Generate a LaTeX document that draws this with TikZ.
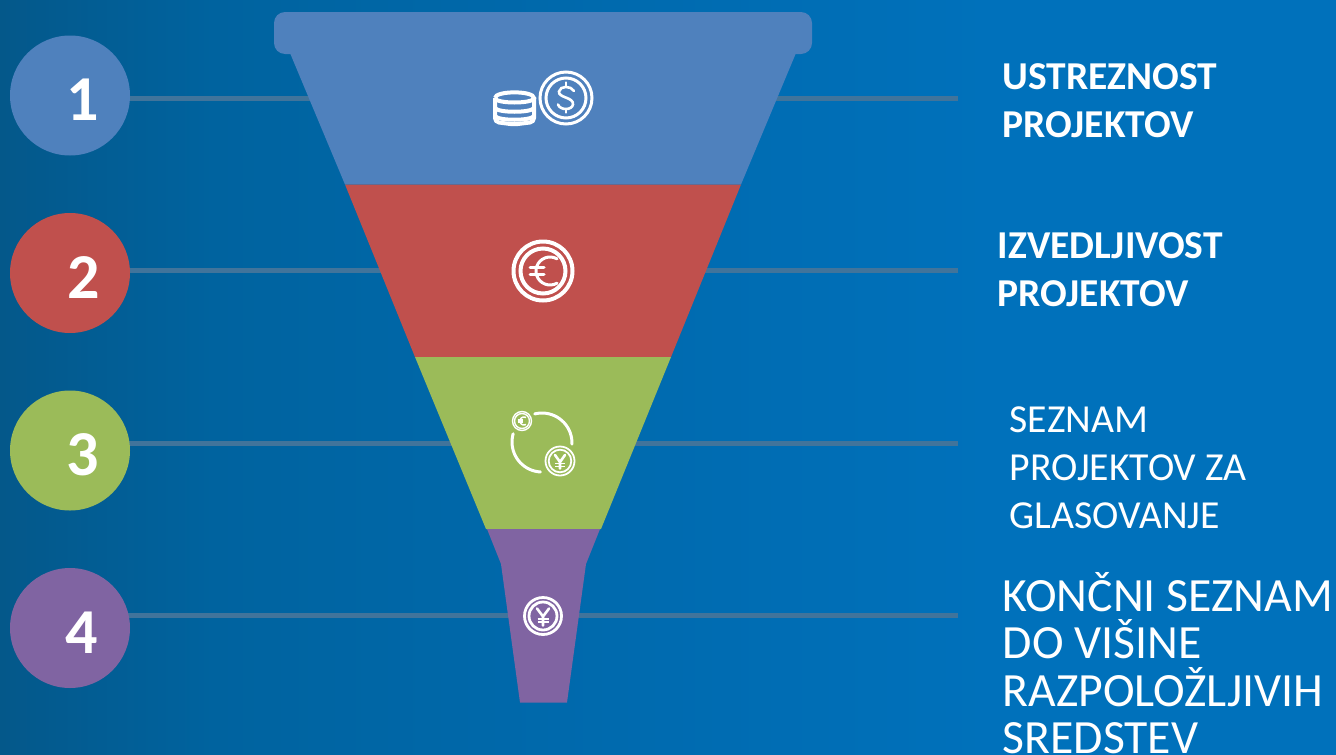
\documentclass[tikz,border=0pt]{standalone}
\usepackage{fontspec}
\setmainfont{Carlito}
\definecolor{cblue}{HTML}{4F81BD}
\definecolor{cred}{HTML}{C0504D}
\definecolor{cgreen}{HTML}{9BBB59}
\definecolor{cpurple}{HTML}{8064A2}
\definecolor{linecol}{HTML}{41749B}
\definecolor{bgl}{HTML}{04588A}
\definecolor{bga}{HTML}{00639F}
\definecolor{bgm}{HTML}{006BB0}
\definecolor{bgr}{HTML}{0071BB}
\pgfdeclarehorizontalshading{bgshade}{100bp}{color(0bp)=(bgl); color(25bp)=(bgl); color(33bp)=(bga); color(50bp)=(bgm); color(62bp)=(bgr); color(100bp)=(bgr)}
\tikzset{
  x=1pt,y=-1pt,
  num/.style={circle,minimum size=120pt,inner sep=0pt,draw=none},
  numtxt/.style={text=white,font=\fontsize{64}{64}\selectfont\bfseries,inner sep=0pt},
  guide/.style={draw=linecol,line width=5pt},
  lab/.style={text=white,anchor=north west,align=left,inner sep=0pt},
  labb/.style={lab,font=\fontsize{39.5}{48}\selectfont\bfseries},
  labr/.style={lab,font=\fontsize{39.7}{48}\selectfont},
  labl/.style={lab,font=\fontsize{47.7}{47.5}\selectfont},
  ic/.style={draw=white,line width=3pt,fill=none},
  icthin/.style={draw=white,line width=3pt,fill=none,line cap=round},
  icfine/.style={draw=white,line width=1.4pt,fill=none},
}
\begin{document}
\begin{tikzpicture}
\path[use as bounding box,shading=bgshade] (0,0) rectangle (1336,755);
% guide ends
\coordinate (e1) at (958,98);
\coordinate (e2) at (958,270.5);
\coordinate (e3) at (958,443);
\coordinate (e4) at (958,615.5);
\coordinate (s1) at (100,98);
\coordinate (s2) at (100,270.5);
\coordinate (s3) at (100,443);
\coordinate (s4) at (100,615.5);
\draw[guide] (s1) -- (e1);
\draw[guide] (s2) -- (e2);
\draw[guide] (s3) -- (e3);
\draw[guide] (s4) -- (e4);
% circles
\node[num,fill=cblue] (n1) at (70,95.5) {};
\node[num,fill=cred] (n2) at (70,273) {};
\node[num,fill=cgreen] (n3) at (70,450.5) {};
\node[num,fill=cpurple] (n4) at (70,628) {};
\node[numtxt] (t1) at (83,100) {1};
\node[numtxt] (t2) at (84,278) {2};
\node[numtxt] (t3) at (83,455) {3};
\node[numtxt] (t4) at (82,633) {4};
% funnel
\fill[cblue,rounded corners=11pt] (274,12) -- (812,12) -- (812,54) -- (274,54) -- cycle;
\fill[cblue] (290,53) -- (796,53) -- (741,184.5) -- (345,184.5) -- cycle;
\fill[cred] (345,184.5) -- (741,184.5) -- (671,357) -- (415,357) -- cycle;
\fill[cgreen] (415,357) -- (671,357) -- (601,529) -- (486,529) -- cycle;
\fill[cpurple] (487,529) -- (600,529) -- (586,564) -- (567,702.5) -- (520,702.5) -- (501,564) -- cycle;
% dollar icon
\draw[ic] (566,98) circle[radius=26pt];
\draw[ic] (566,98) circle[radius=20pt];
\draw[icthin,line width=2.6pt] (574,91) .. controls (571,85.5) and (560,85.5) .. (559,91.5) .. controls (558,98) and (574,97) .. (573,104.5) .. controls (572,110.5) and (560,110.5) .. (558,104.5);
\draw[icthin,line width=2.6pt] (566,82.5) -- (566,85.5) (566,109) -- (566,112.5);
% coin stack
\draw[ic,line width=4pt,rounded corners=4pt] (495,98) -- (495,122) -- (514,124.5) -- (534,122) -- (534,98);
\draw[ic,line width=4pt] (495,98) .. controls (495,90.5) and (534,90.5) .. (534,98) .. controls (534,104) and (495,104) .. (495,98);
\draw[ic,line width=4pt] (495,108) .. controls (498,113) and (531,113) .. (534,108);
\draw[ic,line width=4pt] (495,116) .. controls (498,121) and (531,121) .. (534,116);
% euro icon
\draw[ic,line width=4pt] (543,271) circle[radius=29.5pt];
\draw[ic,line width=4pt] (543,271) circle[radius=22.5pt];
\draw[icthin] plot[smooth,domain=-60:-300,samples=20] ({550+14*cos(\x)},{271+14*sin(\x)});
\draw[icthin] (530,267.5) -- (544,267.5) (530,274) -- (544,274);
% exchange icon
\draw[icthin] plot[smooth,domain=-104:2,samples=20] ({542+30*cos(\x)},{443+30*sin(\x)});
\draw[icthin] plot[smooth,domain=93:196,samples=20] ({542+30*cos(\x)},{442+30*sin(\x)});
\draw[icfine] (522,421) circle[radius=9.5pt];
\draw[icfine] (522,421) circle[radius=7.5pt];
\draw[icfine] plot[smooth,domain=-60:-300,samples=12] ({524+4*cos(\x)},{421+4*sin(\x)});
\draw[icfine] (517.5,420) -- (523,420) (517.5,422) -- (523,422);
\draw[icfine,line width=1.8pt] (560,461) circle[radius=14.5pt];
\draw[icfine,line width=1.8pt] (560,461) circle[radius=11.3pt];
\draw[icthin,line width=2.6pt] (555,455) -- (560,462) -- (565,455) (560,462) -- (560,468.5);
\draw[icfine,line width=1.8pt] (555,463.5) -- (565,463.5) (555,466.5) -- (565,466.5);
% yen icon
\draw[icthin,line width=2.8pt] (543,616) circle[radius=18.5pt];
\draw[icthin,line width=2.8pt] (543,616) circle[radius=14pt];
\draw[icthin,line width=2.6pt] (537,608.5) -- (543,616.5) -- (549,608.5) (543,616.5) -- (543,625.5);
\draw[icfine,line width=2pt] (537.5,618.5) -- (548.5,618.5) (537.5,622) -- (548.5,622);
% labels
\node[labb] (l1) at (1002.5,63) {USTREZNOST\\PROJEKTOV};
\node[labb] (l2) at (997.5,232) {IZVEDLJIVOST\\PROJEKTOV};
\node[labr] (l3) at (1009.5,407) {SEZNAM\\PROJEKTOV ZA\\GLASOVANJE};
\node[labl] (l4) at (1002.5,572) {KONČNI SEZNAM\\DO VIŠINE\\RAZPOLOŽLJIVIH\\SREDSTEV};
\end{tikzpicture}
\end{document}
